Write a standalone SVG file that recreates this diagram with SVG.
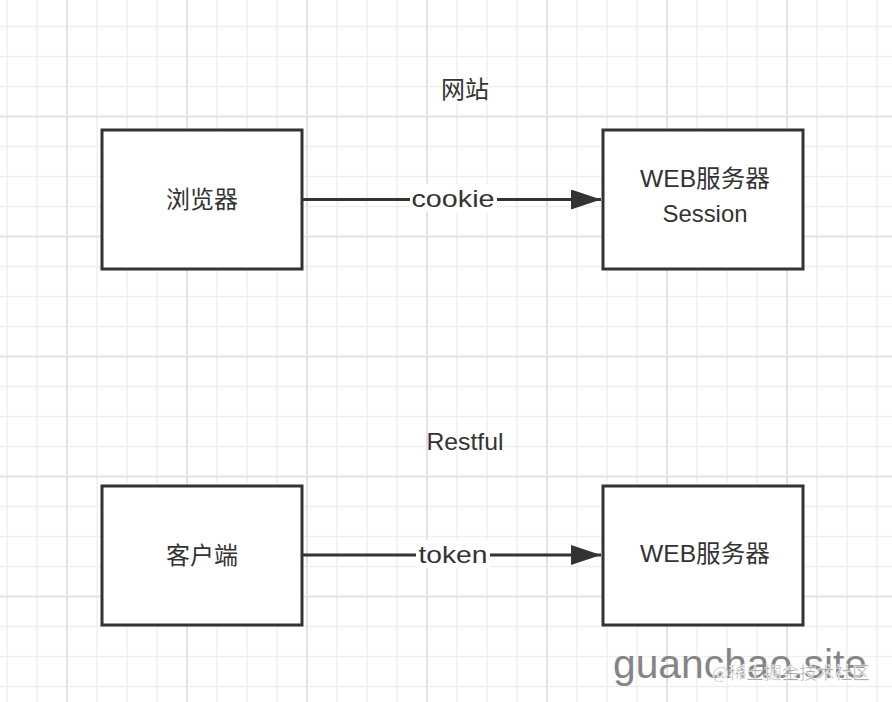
<svg xmlns="http://www.w3.org/2000/svg" width="892" height="702" viewBox="0 0 892 702">
<style>
.minor{stroke:#efefef;stroke-width:1.5}
.major{stroke:#e3e3e3;stroke-width:2}
.box{fill:#ffffff;stroke:#333333;stroke-width:3}
.t{font-family:"Liberation Sans","Noto Sans CJK SC",sans-serif;font-size:24px;fill:#333333;text-anchor:middle}
.edge{stroke:#333333;stroke-width:3;fill:none}
.lblbg{fill:#ffffff}
</style>
<defs>
<marker id="arr" markerUnits="userSpaceOnUse" markerWidth="32" markerHeight="22" refX="30" refY="10" orient="auto">
<path d="M0,0 L30,10 L0,20 Z" fill="#333333"/>
</marker>
</defs>
<rect width="892" height="702" fill="#ffffff"/>
<g id="grid">
<path class="minor" d="M7,0V702M37,0V702M97,0V702M127,0V702M157,0V702M217,0V702M247,0V702M277,0V702M337,0V702M367,0V702M397,0V702M457,0V702M487,0V702M517,0V702M577,0V702M607,0V702M637,0V702M697,0V702M727,0V702M757,0V702M817,0V702M847,0V702M877,0V702"/>
<path class="minor" d="M0,26.5H892M0,56.5H892M0,86.5H892M0,146.5H892M0,176.5H892M0,206.5H892M0,266.5H892M0,296.5H892M0,326.5H892M0,386.5H892M0,416.5H892M0,446.5H892M0,506.5H892M0,536.5H892M0,566.5H892M0,626.5H892M0,656.5H892M0,686.5H892"/>
<path class="major" d="M67,0V702M187,0V702M307,0V702M427,0V702M547,0V702M667,0V702M787,0V702M0,116.5H892M0,236.5H892M0,356.5H892M0,476.5H892M0,596.5H892"/>
</g>
<g id="title-website"><text class="t" x="465" y="98">网站</text></g>
<g id="title-restful"><text class="t" x="465" y="450" textLength="77" lengthAdjust="spacingAndGlyphs">Restful</text></g>
<g id="connectors">
<line class="edge" x1="303" y1="199.5" x2="601" y2="199.5" marker-end="url(#arr)"/>
<rect class="lblbg" x="410" y="184" width="87" height="28"/>
<text class="t" x="453" y="206.5" textLength="83" lengthAdjust="spacingAndGlyphs">cookie</text>
<line class="edge" x1="303" y1="555" x2="601" y2="555" marker-end="url(#arr)"/>
<rect class="lblbg" x="416" y="540" width="74" height="28"/>
<text class="t" x="453" y="563" textLength="69" lengthAdjust="spacingAndGlyphs">token</text>
</g>
<g id="browser">
<rect class="box" x="102" y="130" width="200" height="139"/>
<text class="t" x="202" y="208">浏览器</text>
</g>
<g id="web-session">
<rect class="box" x="603" y="130" width="200" height="139"/>
<text class="t" x="705" y="187" textLength="130" lengthAdjust="spacingAndGlyphs">WEB服务器</text>
<text class="t" x="705" y="221.5" textLength="85" lengthAdjust="spacingAndGlyphs">Session</text>
</g>
<g id="client">
<rect class="box" x="102" y="486" width="200" height="139"/>
<text class="t" x="202" y="564">客户端</text>
</g>
<g id="web-server">
<rect class="box" x="603" y="486" width="200" height="139"/>
<text class="t" x="705" y="562" textLength="130" lengthAdjust="spacingAndGlyphs">WEB服务器</text>
</g>
<g id="watermark">
<text x="613" y="678" font-family="Liberation Sans, sans-serif" font-size="40" fill="#858585" textLength="254" lengthAdjust="spacingAndGlyphs">guanchao.site</text>
<text x="712" y="679" font-family="'Noto Sans CJK SC', sans-serif" font-size="17" fill="#8c8c8c" stroke="#ffffff" stroke-width="0.6" textLength="158" lengthAdjust="spacingAndGlyphs">@稀土掘金技术社区</text>
</g>
</svg>
